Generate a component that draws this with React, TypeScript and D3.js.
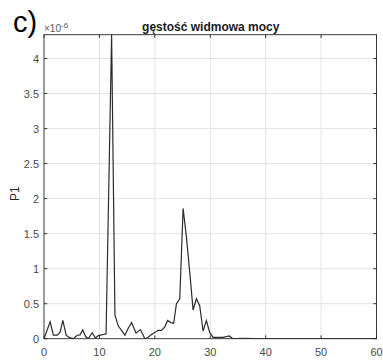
import React from 'react';
import * as d3 from 'd3';

// frequency (Hz) and power (x1e-6)
const freq = [0, 1.1, 1.7, 2.4, 2.9, 3.4, 4.0, 4.6, 5.3, 6.0, 6.5, 7.0, 7.5, 8.0, 8.7, 9.3, 9.8, 10.4, 11.2,
  12.2, 12.8, 13.4, 14.0, 14.6, 15.2, 15.8, 16.6, 17.4, 18.2, 18.8, 19.4, 20.0, 20.6, 21.2, 21.8, 22.3, 22.9,
  23.4, 23.9, 24.5, 25.1, 25.7, 26.3, 26.9, 27.5, 28.1, 28.7, 29.3, 29.9, 30.5, 31.1, 31.7, 32.3, 32.9, 33.4,
  34.0, 34.6, 36, 38, 40, 45, 50, 55, 60];
const power = [0, 0.24, 0.05, 0.05, 0.09, 0.26, 0.05, 0.015, 0, 0.05, 0.055, 0.125, 0.03, 0, 0.085, 0.01, 0.045, 0.055, 0.07,
  4.34, 0.34, 0.18, 0.12, 0.05, 0.15, 0.23, 0.08, 0.13, 0, 0.02, 0.06, 0.09, 0.12, 0.12, 0.17, 0.26, 0.23,
  0.22, 0.5, 0.57, 1.86, 1.45, 0.95, 0.41, 0.57, 0.47, 0.11, 0.26, 0.09, 0.02, 0.02, 0.02, 0.02, 0.03, 0.04,
  0.005, 0, 0.004, 0.002, 0.003, 0.002, 0.002, 0.002, 0.002];

const xTicks = [0, 10, 20, 30, 40, 50, 60];
const yTicks = [0, 0.5, 1, 1.5, 2, 2.5, 3, 3.5, 4];

const W = 383;
const H = 363;
const m = { left: 44, right: 6.5, top: 34.7, bottom: 24.3 };

export default function App() {
  const x = d3.scaleLinear().domain([0, 60]).range([m.left, W - m.right]);
  const y = d3.scaleLinear().domain([0, 4.34]).range([H - m.bottom, m.top]);
  const pts = freq.map((f, i) => [f, power[i]] as [number, number]);
  const line = d3.line<[number, number]>().x(d => x(d[0])).y(d => y(d[1]));
  const x0 = x(0), x1 = x(60), y0 = y(0), y1 = y(4.34);
  const axisColor = '#262626';
  const font = '"Liberation Sans", Arial, sans-serif';

  return (
    <svg width={W} height={H} style={{ position: 'absolute', left: 0, top: 0, background: '#fff' }}>
      <defs>
        <clipPath id="plotclip">
          <rect x={x0} y={y1} width={x1 - x0} height={y0 - y1} />
        </clipPath>
      </defs>
      {/* grid */}
      {xTicks.slice(1, -1).map(t => (
        <line key={'gx' + t} x1={x(t)} x2={x(t)} y1={y1} y2={y0} stroke="#e3e3e3" strokeWidth={1} />
      ))}
      {yTicks.slice(1).map(t => (
        <line key={'gy' + t} x1={x0} x2={x1} y1={y(t)} y2={y(t)} stroke="#e3e3e3" strokeWidth={1} />
      ))}
      {/* data */}
      <path d={line(pts) || ''} fill="none" stroke="#2b2b2b" strokeWidth={1.2} clipPath="url(#plotclip)" />
      {/* box */}
      <rect x={x0} y={y1} width={x1 - x0} height={y0 - y1} fill="none" stroke={axisColor} strokeWidth={0.9} />
      {/* ticks */}
      {xTicks.map(t => (
        <g key={'tx' + t}>
          <line x1={x(t)} x2={x(t)} y1={y0} y2={y0 - 3.3} stroke={axisColor} strokeWidth={0.9} />
          <line x1={x(t)} x2={x(t)} y1={y1} y2={y1 + 3.3} stroke={axisColor} strokeWidth={0.9} />
          <text x={x(t)} y={y0 + 17} textAnchor="middle" fontFamily={font} fontSize={11} fill="#4a4a4a">{t}</text>
        </g>
      ))}
      {yTicks.map(t => (
        <g key={'ty' + t}>
          <line x1={x0} x2={x0 + 3.3} y1={y(t)} y2={y(t)} stroke={axisColor} strokeWidth={0.9} />
          <line x1={x1} x2={x1 - 3.3} y1={y(t)} y2={y(t)} stroke={axisColor} strokeWidth={0.9} />
          <text x={x0 - 5} y={y(t) + 4} textAnchor="end" fontFamily={font} fontSize={11} fill="#4a4a4a">{t}</text>
        </g>
      ))}
      {/* exponent */}
      <text x={x0} y={y1 - 3} fontFamily={font} fontSize={10} fill="#5a5a5a">
        ×10<tspan dy={-4} fontSize={8}>-6</tspan>
      </text>
      {/* title */}
      <text x={(x0 + x1) / 2 + 0.5} y={30.5} textAnchor="middle" fontFamily={font} fontSize={12} fontWeight="bold" fill="#1a1a1a">
        gęstość widmowa mocy
      </text>
      {/* y label */}
      <text transform={`translate(18.5,${(y0 + y1) / 2 + 7}) rotate(-90)`} textAnchor="middle" fontFamily={font} fontSize={12} fill="#262626">
        P1
      </text>
      {/* panel label */}
      <text x={13} y={32} fontFamily={font} fontSize={29} fill="#000">c)</text>
    </svg>
  );
}
